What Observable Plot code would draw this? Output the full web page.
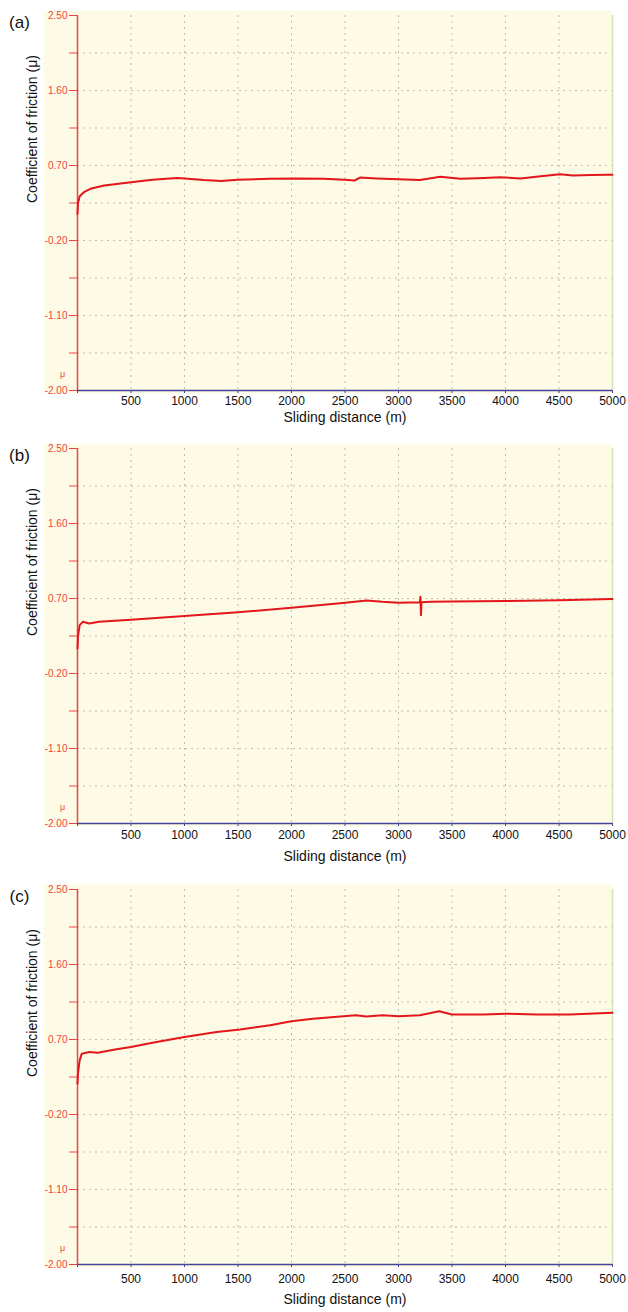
<!DOCTYPE html>
<html><head><meta charset="utf-8">
<script src="https://cdn.jsdelivr.net/npm/d3@7"></script>
<script src="https://cdn.jsdelivr.net/npm/@observablehq/plot@0.6"></script>
<style>body{margin:0;background:#fff;} svg{display:block;} #chart{width:628px;}</style>
</head><body><div id="chart"></div>
<script>
const panelLabels = ["(a)", "(b)", "(c)"];
const xTicks = [0, 500, 1000, 1500, 2000, 2500, 3000, 3500, 4000, 4500, 5000];
const yTicks = [2.5, 2.05, 1.6, 1.15, 0.7, 0.25, -0.2, -0.65, -1.1, -1.55, -2.0];
const yTickLabels = ["2.50", "", "1.60", "", "0.70", "", "-0.20", "", "-1.10", "", "-2.00"];
const xTitle = "Sliding distance (m)";
const yTitle = "Coefficient of friction (μ)";
const muLabelY = -1.8;

const distA = [0, 5, 20, 60, 120, 250, 500, 700, 930, 1000, 1180, 1340, 1500, 1800, 2050, 2300, 2500, 2590, 2640, 2800, 3000, 3200, 3390, 3580, 3800, 3950, 4140, 4330, 4510, 4630, 4800, 4950, 5000];
const cofA  = [0.12, 0.25, 0.33, 0.38, 0.42, 0.46, 0.50, 0.53, 0.55, 0.545, 0.525, 0.515, 0.53, 0.54, 0.545, 0.54, 0.53, 0.52, 0.555, 0.545, 0.535, 0.525, 0.565, 0.54, 0.55, 0.56, 0.545, 0.57, 0.595, 0.58, 0.585, 0.59, 0.59];

const distB = [0, 5, 20, 50, 110, 200, 500, 1000, 1500, 2000, 2480, 2700, 2850, 3000, 3200, 3205, 3210, 3215, 3300, 3500, 4000, 4500, 5000];
const cofB  = [0.10, 0.25, 0.38, 0.42, 0.40, 0.42, 0.445, 0.49, 0.535, 0.59, 0.645, 0.675, 0.66, 0.65, 0.655, 0.72, 0.50, 0.655, 0.66, 0.665, 0.67, 0.68, 0.695];

const distC = [0, 5, 20, 40, 110, 190, 350, 500, 700, 1000, 1300, 1520, 1800, 2000, 2200, 2400, 2600, 2700, 2850, 3000, 3200, 3380, 3500, 3800, 4000, 4300, 4600, 5000];
const cofC  = [0.17, 0.30, 0.45, 0.53, 0.55, 0.54, 0.58, 0.61, 0.66, 0.73, 0.79, 0.82, 0.87, 0.92, 0.95, 0.97, 0.99, 0.975, 0.99, 0.98, 0.99, 1.04, 1.0, 1.0, 1.01, 1.0, 1.0, 1.02];

const series = [[distA, cofA], [distB, cofB], [distC, cofC]];
const heights = [433, 441, 438];
const tickPads = [6, 7, 10];
const titleOffsets = [31, 37, 39];

const RED = "#e3161b";
const AXRED = "#ee4444";
const BLUE = "#44449a";
const GRID = "#bdbdb2";
const container = document.getElementById("chart");

series.forEach(([dist, cof], i) => {
  const data = dist.map((d, k) => ({d, v: cof[k]}));
  const h = heights[i];
  const chart = Plot.plot({
    width: 628,
    height: h,
    marginTop: 15,
    marginBottom: h - 390,
    marginLeft: 77,
    marginRight: 16,
    style: {fontFamily: "'Liberation Sans', Arial, sans-serif", background: "#fff"},
    x: {type: "linear", domain: [0, 5000]},
    y: {type: "linear", domain: [-2, 2.5]},
    marks: [
      Plot.frame({fill: "#fdfbe6", stroke: null, insetLeft: -34, insetTop: -5, insetBottom: -3}),
      Plot.gridX(xTicks.slice(1, -1), {stroke: GRID, strokeOpacity: 1, strokeDasharray: "2,4"}),
      Plot.gridY(yTicks.slice(1, -1), {stroke: GRID, strokeOpacity: 1, strokeDasharray: "2,4"}),
      Plot.ruleX([5000], {stroke: "#d4e2bc", strokeWidth: 1.5}),
      Plot.ruleX([0], {stroke: AXRED, strokeWidth: 1.5}),
      Plot.axisY({ticks: yTicks, tickSize: 8, tickPadding: 2, label: null, color: AXRED,
        fontSize: 10, tickFormat: (t) => yTickLabels[yTicks.indexOf(t)] ?? ""}),
      Plot.text(["μ"], {x: () => 0, y: () => muLabelY, dx: -15, fill: AXRED, fontSize: 9}),
      Plot.ruleY([-2], {stroke: BLUE, strokeWidth: 1.5}),
      Plot.axisX({ticks: xTicks, tickSize: 3, stroke: BLUE, label: null, tickFormat: () => ""}),
      Plot.axisX({ticks: xTicks.slice(1), tickSize: 0, tickPadding: tickPads[i], label: null,
        fontSize: 12, color: "#111", tickFormat: (d) => String(d)}),
      Plot.line(data, {x: "d", y: "v", stroke: RED, strokeWidth: 2}),
      Plot.text([xTitle], {frameAnchor: "bottom", dy: titleOffsets[i], fontSize: 14, fill: "#111"}),
      Plot.text([yTitle], {frameAnchor: "left", dx: -45, rotate: -90, fontSize: 14, fill: "#111"}),
      Plot.text([panelLabels[i]], {frameAnchor: "top-left", dx: -58, dy: 0, fontSize: 17, fill: "#111", textAnchor: "middle"})
    ]
  });
  container.appendChild(chart);
});
</script>
</body></html>
